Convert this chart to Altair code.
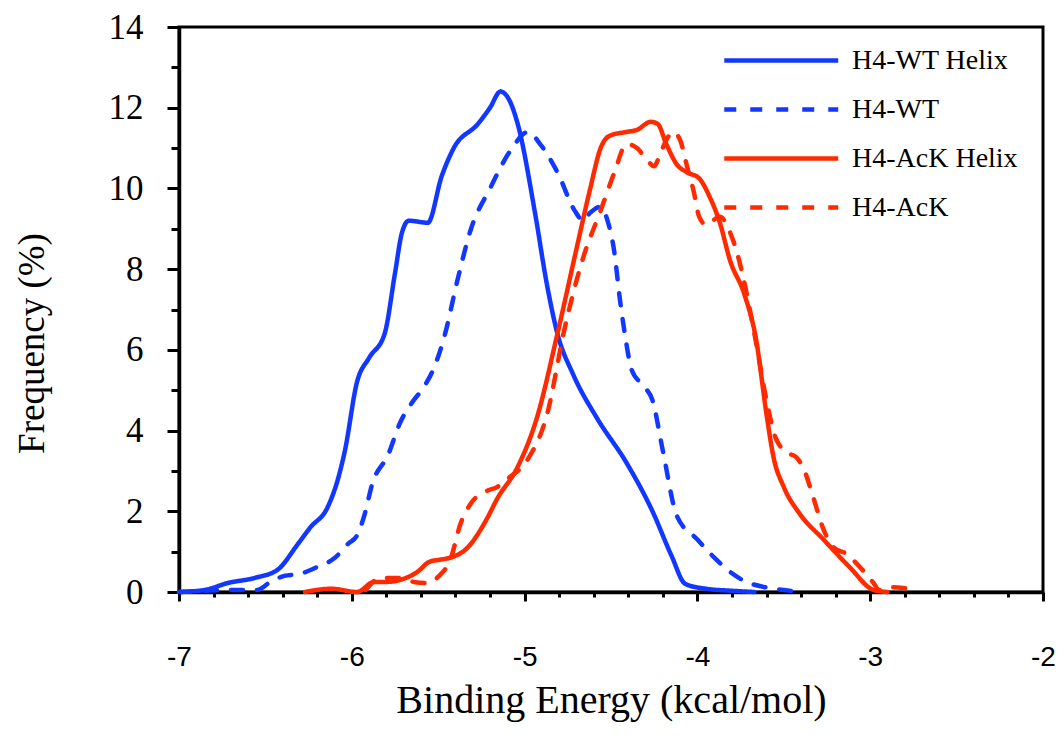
import altair as alt
import pandas as pd

series_names = ["H4-WT Helix", "H4-WT", "H4-AcK Helix", "H4-AcK"]
series_colors = ["#1238FF", "#1238FF", "#FF2A00", "#FF2A00"]
series_dashes = [[1, 0], [12, 14], [1, 0], [12, 14]]

wt_helix_x = [-7.0, -6.85, -6.72, -6.56, -6.43, -6.31, -6.24, -6.14, -6.08, -6.04, -5.97, -5.9,
              -5.81, -5.75, -5.71, -5.67, -5.56, -5.48, -5.41, -5.27, -5.2, -5.14, -5.09, -5.04,
              -4.94, -4.87, -4.81, -4.72, -4.58, -4.41, -4.26, -4.15, -4.07, -3.95, -3.8, -3.67]
wt_helix_y = [0.0, 0.05, 0.22, 0.35, 0.55, 1.2, 1.6, 2.1, 2.8, 3.5, 5.2, 5.8,
              6.4, 7.9, 8.9, 9.2, 9.15, 10.3, 11.0, 11.6, 12.0, 12.4, 12.2, 11.6,
              9.4, 7.6, 6.4, 5.4, 4.3, 3.2, 2.0, 0.9, 0.2, 0.08, 0.03, 0.0]

wt_x = [-7.0, -6.85, -6.7, -6.55, -6.47, -6.39, -6.3, -6.2, -6.1, -6.02, -5.97, -5.93, -5.88,
        -5.79, -5.72, -5.65, -5.58, -5.52, -5.46, -5.39, -5.31, -5.2, -5.08, -4.98, -4.91,
        -4.81, -4.71, -4.66, -4.62, -4.56, -4.52, -4.48, -4.45, -4.42, -4.38, -4.31, -4.26,
        -4.2, -4.12, -4.0, -3.89, -3.84, -3.74, -3.6, -3.5, -3.4]
wt_y = [0.0, 0.03, 0.05, 0.05, 0.25, 0.4, 0.45, 0.62, 0.84, 1.2, 1.4, 1.86, 2.7,
        3.4, 4.2, 4.7, 5.1, 5.6, 6.4, 7.7, 9.0, 10.0, 10.95, 11.4, 11.1,
        10.4, 9.45, 9.2, 9.4, 9.55, 9.2, 8.4, 7.3, 6.4, 5.5, 5.1, 4.75,
        3.5, 1.9, 1.3, 0.8, 0.6, 0.3, 0.11, 0.05, 0.0]

ack_helix_x = [-6.27, -6.12, -5.97, -5.87, -5.8, -5.72, -5.62, -5.55, -5.49, -5.43, -5.33, -5.22,
               -5.16, -5.04, -4.93, -4.81, -4.7, -4.62, -4.56, -4.51, -4.41, -4.35, -4.27, -4.23,
               -4.18, -4.12, -4.06, -3.99, -3.93, -3.87, -3.81, -3.73, -3.66, -3.6, -3.56, -3.5,
               -3.41, -3.27, -3.12, -2.98, -2.9]
ack_helix_y = [0.0, 0.08, 0.0, 0.25, 0.25, 0.3, 0.5, 0.75, 0.8, 0.85, 1.1, 1.8,
               2.3, 3.1, 4.3, 6.4, 8.5, 10.0, 11.0, 11.3, 11.4, 11.45, 11.65, 11.6,
               11.1, 10.6, 10.4, 10.25, 9.8, 9.15, 8.2, 7.4, 6.25, 4.4, 3.35, 2.6,
               1.95, 1.3, 0.62, 0.05, 0.0]

ack_x = [-5.92, -5.83, -5.74, -5.64, -5.56, -5.5, -5.43, -5.37, -5.31, -5.22, -5.16, -5.1,
         -4.98, -4.87, -4.77, -4.66, -4.56, -4.48, -4.41, -4.35, -4.29, -4.25, -4.22, -4.18,
         -4.14, -4.1, -4.06, -4.02, -3.99, -3.95, -3.87, -3.81, -3.77, -3.73, -3.67, -3.6,
         -3.55, -3.48, -3.43, -3.38, -3.33, -3.27, -3.21, -3.14, -3.06, -2.98, -2.95, -2.87,
         -2.81, -2.72]
ack_y = [0.05, 0.35, 0.35, 0.25, 0.22, 0.38, 0.8, 1.7, 2.2, 2.5, 2.6, 2.8,
         3.3, 4.4, 6.5, 8.3, 9.45, 10.4, 11.1, 11.0, 10.7, 10.55, 10.8, 11.2,
         11.4, 11.2, 10.55, 9.9, 9.3, 9.1, 9.3, 8.9, 8.4, 7.7, 6.4, 4.75,
         3.85, 3.45, 3.35, 3.0, 2.35, 1.55, 1.1, 0.95, 0.62, 0.22, 0.05, 0.12,
         0.1, 0.0]

x_tick_values = [round(-7 + 0.2 * i, 1) for i in range(26)]
y_tick_values = list(range(0, 15))

rows = []
for name, xs, ys in zip(series_names,
                        [wt_helix_x, wt_x, ack_helix_x, ack_x],
                        [wt_helix_y, wt_y, ack_helix_y, ack_y]):
    assert len(xs) == len(ys), name
    for i, (xv, yv) in enumerate(zip(xs, ys)):
        rows.append({"series": name, "energy": xv, "freq": yv, "order": i})
df = pd.DataFrame(rows)

legend = alt.Legend(
    title=None, orient="none", legendX=543, legendY=17,
    symbolType="M-1,0H7", symbolSize=812, symbolStrokeWidth=4.5,
    labelOffset=97, labelFont="Liberation Serif", labelFontSize=28,
    labelColor="black", rowPadding=18, padding=0, labelLimit=400,
)

chart = alt.Chart(df).mark_line(
    strokeWidth=4.5, interpolate="monotone", strokeCap="round", strokeJoin="round"
).encode(
    x=alt.X("energy:Q", scale=alt.Scale(domain=[-7, -2], nice=False, zero=False),
            axis=alt.Axis(
                title="Binding Energy (kcal/mol)", values=x_tick_values,
                labelExpr="abs(datum.value - round(datum.value)) < 0.001 ? '' + round(datum.value) : ''",
                tickSize={"condition": {"test": "abs(datum.value - round(datum.value)) < 0.001", "value": 9}, "value": 5},
                labelFont="Liberation Sans", labelFontSize=28, labelPadding=42,
                labelOverlap=False, labelFlush=False,
                titleFont="Liberation Serif", titleFontSize=40, titleFontWeight="normal",
                titleY=120, titleBaseline="alphabetic",
            )),
    y=alt.Y("freq:Q", scale=alt.Scale(domain=[0, 14], nice=False),
            axis=alt.Axis(
                title="Frequency (%)", values=y_tick_values,
                labelExpr="datum.value % 2 === 0 ? '' + datum.value : ''",
                tickSize={"condition": {"test": "datum.value % 2 === 0", "value": 12}, "value": 8},
                labelFont="Liberation Serif", labelFontSize=35, labelPadding=24,
                labelOverlap=False, labelFlush=False,
                titleFont="Liberation Serif", titleFontSize=37, titleFontWeight="normal",
                titleX=-136, titleY=316, titleAngle=270, titleBaseline="alphabetic",
                titleAlign="center",
            )),
    color=alt.Color("series:N", scale=alt.Scale(domain=series_names, range=series_colors),
                    legend=legend),
    strokeDash=alt.StrokeDash("series:N", scale=alt.Scale(domain=series_names, range=series_dashes),
                              legend=legend),
    order="order:Q",
    detail="series:N",
).properties(
    width=864, height=565,
    autosize=alt.AutoSizeParams(type="none"),
    padding={"left": 171, "top": 19, "right": 13, "bottom": 134},
).configure_view(
    stroke="black", strokeWidth=3
).configure_axis(
    domainColor="black", domainWidth=3.5, tickColor="black", tickWidth=3,
    labelColor="black", titleColor="black", grid=False,
)

chart.save("out.html", embed_options={"renderer": "svg", "actions": False})
